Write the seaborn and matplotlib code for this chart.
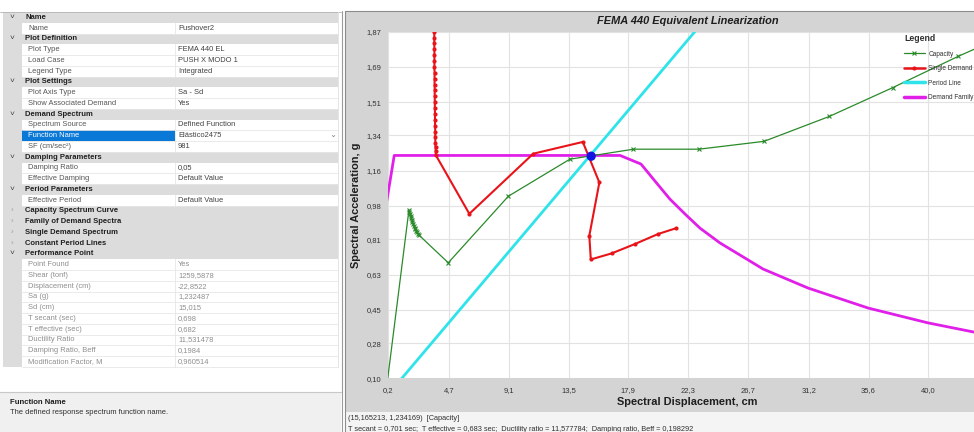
import numpy as np
import pandas as pd
import matplotlib
matplotlib.use("Agg")
import matplotlib.pyplot as plt
from matplotlib.patches import Rectangle
from matplotlib.lines import Line2D
import seaborn as sns

# === Curves (Sd in cm, Sa in g) ===
cap_sd = [0.0, 1.74, 1.78, 1.82, 1.86, 1.90, 1.95, 2.00, 2.05, 2.10, 2.16, 2.22,
          2.28, 2.34, 2.42, 2.50, 4.64, 9.07, 13.6, 15.17, 18.28, 23.1, 27.9,
          32.7, 37.4, 42.2, 45.0]
cap_sa = [0.0, 0.958, 0.950, 0.940, 0.930, 0.920, 0.910, 0.900, 0.890, 0.880,
          0.870, 0.860, 0.850, 0.845, 0.836, 0.830, 0.690, 1.030, 1.219, 1.236,
          1.270, 1.270, 1.310, 1.437, 1.585, 1.744, 1.830]

dem_sd = [3.60, 3.61, 3.61, 3.61, 3.62, 3.62, 3.62, 3.62, 3.63, 3.63, 3.63, 3.64,
          3.64, 3.65, 3.65, 3.66, 3.66, 3.67, 3.68, 3.68, 3.69, 3.70, 3.71, 3.72,
          6.19, 10.9, 14.55, 15.77, 15.03, 15.14, 16.68, 18.4, 20.1, 21.4]
dem_sa = [2.00, 1.87, 1.84, 1.81, 1.78, 1.75, 1.72, 1.69, 1.66, 1.63, 1.60, 1.57,
          1.54, 1.51, 1.48, 1.45, 1.42, 1.39, 1.36, 1.33, 1.30, 1.28, 1.26, 1.240,
          0.940, 1.247, 1.307, 1.100, 0.828, 0.707, 0.738, 0.786, 0.837, 0.866]

period_sd = [0.0, 22.8]
period_sa = [0.0, 1.87]

fam_sd = [0.0, 0.66, 17.3, 18.84, 20.0, 20.97, 22.08, 23.18, 24.66, 26.5, 27.83,
          31.14, 35.56, 39.98, 43.37, 46.0]
fam_sa = [0.96, 1.238, 1.238, 1.194, 1.096, 1.015, 0.939, 0.867, 0.791, 0.714,
          0.658, 0.561, 0.459, 0.383, 0.336, 0.315]

perf_sd = [15.165213]
perf_sa = [1.234169]

x_ticks = [0.2, 4.7, 9.1, 13.5, 17.9, 22.3, 26.7, 31.2, 35.6, 40.0]
y_ticks = [0.10, 0.28, 0.45, 0.63, 0.81, 0.98, 1.16, 1.34, 1.51, 1.69, 1.87]

legend_labels = ["Capacity", "Single Demand", "Period Line", "Demand Family"]

# === Property grid rows: (kind, name, value) ===
# h = expanded group, c = collapsed group, p = property, d = disabled, s = selected
grid_kinds = ["h", "p", "h", "p", "p", "p", "h", "p", "p", "h", "p", "s", "p",
              "h", "p", "p", "h", "p", "c", "c", "c", "c", "h",
              "d", "d", "d", "d", "d", "d", "d", "d", "d", "d"]
grid_names = ["Name", "Name", "Plot Definition", "Plot Type", "Load Case", "Legend Type",
              "Plot Settings", "Plot Axis Type", "Show Associated Demand",
              "Demand Spectrum", "Spectrum Source", "Function Name", "SF (cm/sec\u00b2)",
              "Damping Parameters", "Damping Ratio", "Effective Damping",
              "Period Parameters", "Effective Period", "Capacity Spectrum Curve",
              "Family of Demand Spectra", "Single Demand Spectrum", "Constant Period Lines",
              "Performance Point", "Point Found", "Shear (tonf)", "Displacement (cm)",
              "Sa (g)", "Sd (cm)", "T secant (sec)", "T effective (sec)", "Ductility Ratio",
              "Damping Ratio, Beff", "Modification Factor, M"]
grid_values = ["", "Pushover2", "", "FEMA 440 EL", "PUSH X MODO 1", "Integrated",
               "", "Sa - Sd", "Yes", "", "Defined Function", "El\u00e1stico2475", "981",
               "", "0,05", "Default Value", "", "Default Value", "", "", "", "", "",
               "Yes", "1259,5878", "-22,8522", "1,232487", "15,015", "0,698", "0,682",
               "11,531478", "0,1984", "0,960514"]

status_line1 = "(15,165213, 1,234169)  [Capacity]"
status_line2 = ("T secant = 0,701 sec;  T effective = 0,683 sec;  Ductility ratio = 11,577784;  "
                "Damping ratio, Beff = 0,198292")

sns.set_style("white")
plt.rcParams["font.family"] = ["Liberation Sans", "DejaVu Sans"]

W, H = 974, 432
fig = plt.figure(figsize=(W / 100, H / 100), dpi=100)

# background canvas in pixel coordinates
bg = fig.add_axes([0, 0, 1, 1], zorder=0)
bg.set_xlim(0, W)
bg.set_ylim(H, 0)
bg.axis("off")

# === Left panel: property grid ===
top0, rh = 12.0, 10.75
grey = "#dcdcdc"
bg.plot([0, 341], [11.5, 11.5], color="#b4b4b4", lw=0.6)
for i, (kind, name, val) in enumerate(zip(grid_kinds, grid_names, grid_values)):
    y0 = top0 + rh * i
    yc = y0 + rh / 2
    if kind in ("h", "c"):
        bg.add_patch(Rectangle((3, y0), 335, rh, fc=grey, ec="none"))
        bg.text(12, yc, "\u02c5" if kind == "h" else "\u203a", ha="center", va="center",
                fontsize=6, color="#404040" if kind == "h" else "#a0a0a0")
        bg.text(25, yc, name, ha="left", va="center", fontsize=5.5,
                fontweight="bold", color="#202020")
    else:
        bg.add_patch(Rectangle((3, y0), 19, rh, fc=grey, ec="none"))
        bg.plot([22, 338], [y0 + rh, y0 + rh], color="#e6e6e6", lw=0.6)
        bg.plot([175, 175], [y0, y0 + rh], color="#e6e6e6", lw=0.6)
        name_col = {"p": "#555555", "d": "#8e8e8e", "s": "white"}[kind]
        val_col = "#8e8e8e" if kind == "d" else "#404040"
        if kind == "s":
            bg.add_patch(Rectangle((22, y0), 153, rh, fc="#0a78d7", ec="none"))
            bg.text(333, yc, "\u2304", ha="center", va="center", fontsize=6, color="#808080")
        bg.text(28, yc, name, ha="left", va="center", fontsize=5.4, color=name_col)
        bg.text(178, yc, val, ha="left", va="center", fontsize=5.4, color=val_col)
bg.plot([338, 338], [12, top0 + rh * len(grid_kinds)], color="#e0e0e0", lw=0.6)

# description box
bg.add_patch(Rectangle((0, 392), 341, 40, fc="#f0f0f0", ec="none"))
bg.plot([0, 341], [392, 392], color="#c8c8c8", lw=0.8)
bg.text(10, 403, "Function Name", ha="left", va="center", fontsize=5.6,
        fontweight="bold", color="#202020")
bg.text(10, 413, "The defined response spectrum function name.", ha="left",
        va="center", fontsize=5.4, color="#303030")
bg.plot([341.5, 341.5], [11, 432], color="#9a9a9a", lw=0.8)

# === Right panel frame ===
bg.add_patch(Rectangle((345, 11), W - 345, 401, fc="#d4d4d4", ec="none"))
bg.add_patch(Rectangle((345, 412), W - 345, 20, fc="#f4f4f4", ec="none"))
bg.plot([345, 345], [11, 432], color="#8c8c8c", lw=0.8)
bg.plot([345, W], [11, 11], color="#8c8c8c", lw=0.8)
bg.text(688, 20.5, "FEMA 440 Equivalent Linearization", ha="center", va="center",
        fontsize=7.9, fontweight="bold", fontstyle="italic", color="#1e1e1e")
bg.text(687, 402, "Spectral Displacement, cm", ha="center", va="center",
        fontsize=7.9, fontweight="bold", color="#1e1e1e")
bg.text(356, 205, "Spectral Acceleration, g", ha="center", va="center",
        rotation=90, fontsize=7.9, fontweight="bold", color="#1e1e1e")
bg.text(348, 419, status_line1, ha="left", va="center", fontsize=5.3, color="#303030")
bg.text(348, 429.5, status_line2, ha="left", va="center", fontsize=5.3, color="#303030")

# === Chart ===
ax = fig.add_axes([388 / W, (H - 378.3) / H, 600 / W, 346.6 / H], zorder=1)
ax.set_facecolor("white")

sns.lineplot(x=fam_sd, y=fam_sa, sort=False, estimator=None, ax=ax,
             color="#e020e8", lw=2.0, zorder=2)
sns.lineplot(x=period_sd, y=period_sa, sort=False, estimator=None, ax=ax,
             color="#2ee4ea", lw=2.0, zorder=3)
sns.lineplot(x=cap_sd, y=cap_sa, sort=False, estimator=None, ax=ax,
             color="#2a8a2a", lw=0.9, marker="x", markersize=3, markeredgewidth=0.8,
             markeredgecolor="#2a8a2a", zorder=4)
sns.lineplot(x=dem_sd, y=dem_sa, sort=False, estimator=None, ax=ax,
             color="#e8141a", lw=1.5, marker="o", markersize=3, markeredgewidth=0,
             zorder=5)
sns.scatterplot(x=perf_sd, y=perf_sa, ax=ax, color="#1414e0", s=45,
                edgecolor="none", zorder=6)

ax.set_xlim(0.2, 44.4)
ax.set_ylim(0.10, 1.87)
ax.set_xticks(x_ticks)
ax.set_xticklabels([f"{v:.1f}".replace(".", ",") for v in x_ticks])
ax.set_yticks(y_ticks)
ax.set_yticklabels([f"{v:.2f}".replace(".", ",") for v in y_ticks])
ax.tick_params(axis="both", labelsize=5.5, labelcolor="#333333", color="#666666",
               length=3, width=0.6, direction="out")
ax.tick_params(axis="x", pad=3)
ax.tick_params(axis="y", pad=1.5)
ax.grid(True, color="#e2e2e2", lw=0.8)
for s in ax.spines.values():
    s.set_visible(False)
ax.set_xlabel("")
ax.set_ylabel("")

handles = [
    Line2D([], [], color="#2a8a2a", lw=0.9, marker="x", ms=3, mew=0.8),
    Line2D([], [], color="#e8141a", lw=1.8, marker="o", ms=3, mew=0),
    Line2D([], [], color="#2ee4ea", lw=2.5),
    Line2D([], [], color="#e020e8", lw=2.5),
]
leg = ax.legend(handles, legend_labels, loc="upper left",
                bbox_to_anchor=(904 / W, (H - 34) / H), bbox_transform=fig.transFigure,
                frameon=False, title="Legend", fontsize=4.7,
                title_fontproperties={"weight": "bold", "size": 6.3},
                handlelength=3.2, handletextpad=0.5, labelspacing=1.15,
                borderpad=0, borderaxespad=0, alignment="left")
leg.get_title().set_color("#303030")
for t in leg.get_texts():
    t.set_color("#303030")

fig.savefig("out.png", dpi=100)
